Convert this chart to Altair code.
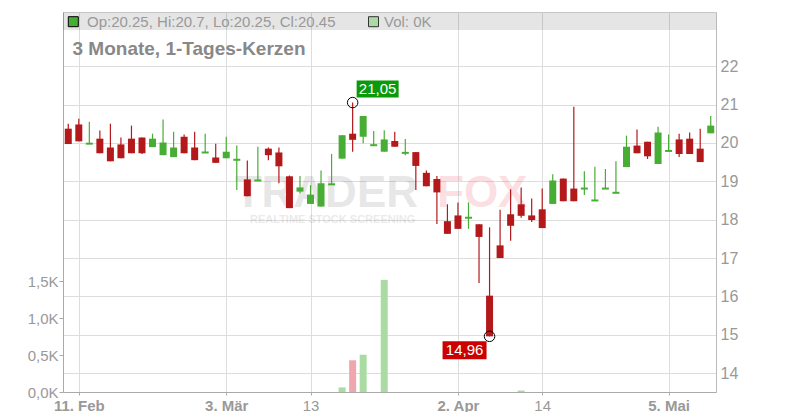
import altair as alt
import pandas as pd

# ---- data (daily candles, 10 Feb - 9 May) ----
opens = [20.37, 20.48, 19.98, 20.11, 19.88, 19.96, 20.11, 20.14, 19.89, 19.68,
         19.63, 20.16, 19.88, 19.75, 19.62, 19.60, 19.56, 19.05, 19.02, 19.85,
         19.75, 19.13, 18.73, 18.41, 18.34, 18.92, 19.59, 20.24, 20.16, 19.94,
         19.77, 20.05, 19.74, 19.76, 19.22, 19.06, 17.96, 18.11, 18.05, 17.88,
         16.02, 17.33, 18.14, 18.40, 18.11, 18.27, 18.41, 19.07, 18.81, 18.81,
         18.50, 18.81, 18.70, 19.37, 19.93, 20.03, 19.45, 19.79, 20.09, 20.11,
         19.85, 20.25]
highs = [20.50, 20.63, 20.55, 20.32, 20.50, 20.14, 20.45, 20.14, 20.24, 20.61,
         20.29, 20.22, 20.29, 20.24, 19.98, 20.16, 19.93, 19.54, 19.90, 19.88,
         19.88, 19.15, 19.14, 18.90, 19.28, 19.71, 20.20, 21.05, 20.70, 20.31,
         20.33, 20.29, 20.10, 19.76, 19.28, 19.14, 18.40, 18.45, 18.45, 17.88,
         17.80, 18.26, 18.79, 18.84, 18.55, 18.81, 19.18, 19.07, 20.94, 19.26,
         19.38, 19.32, 19.52, 20.19, 20.35, 20.03, 20.42, 20.22, 20.24, 20.27,
         20.37, 20.70]
lows = [19.97, 20.04, 19.98, 19.73, 19.52, 19.60, 19.73, 19.71, 19.89, 19.68,
        19.63, 19.73, 19.55, 19.75, 19.48, 19.60, 18.77, 18.61, 19.02, 19.55,
        18.95, 18.30, 18.69, 18.41, 18.34, 18.92, 19.59, 19.77, 19.99, 19.94,
        19.77, 19.90, 19.68, 18.77, 18.87, 17.89, 17.63, 17.76, 17.76, 16.35,
        14.96, 17.00, 17.45, 18.05, 17.94, 17.78, 18.41, 18.48, 18.48, 18.64,
        18.50, 18.81, 18.70, 19.37, 19.73, 19.58, 19.45, 19.79, 19.63, 19.71,
        19.50, 20.25]
closes = [19.97, 20.04, 19.98, 19.73, 19.52, 19.60, 19.73, 19.73, 20.11, 20.01,
          19.88, 19.73, 19.55, 19.75, 19.48, 19.77, 19.56, 18.61, 19.02, 19.68,
          19.39, 18.30, 18.84, 18.65, 18.95, 18.92, 20.20, 20.08, 20.70, 19.94,
          20.09, 19.90, 19.74, 19.40, 18.87, 18.71, 17.63, 17.76, 18.05, 17.55,
          14.96, 17.00, 17.84, 18.10, 17.99, 17.78, 19.02, 18.48, 18.48, 18.81,
          18.50, 18.81, 18.70, 19.90, 19.73, 19.65, 20.27, 19.79, 19.71, 19.71,
          19.50, 20.45]
volumes = [0, 0, 0, 0, 0, 0, 0, 0, 0, 0,
           0, 0, 0, 0, 0, 0, 0, 0, 0, 0,
           0, 0, 0, 0, 0, 0, 62, 430, 505, 0,
           1520, 0, 0, 0, 0, 0, 0, 0, 0, 0,
           0, 0, 0, 20, 0, 0, 0, 0, 0, 0,
           0, 0, 0, 0, 0, 0, 0, 0, 0, 0,
           0, 0]
tick_idx = [1, 15, 23, 37, 45, 57]
tick_labels = ["11. Feb", "3. Mär", "13", "2. Apr", "14", "5. Mai"]
tick_bold = [True, True, False, True, False, True]
price_ticks = [14, 15, 16, 17, 18, 19, 20, 21, 22]
vol_ticks = [0, 500, 1000, 1500]
title_text = "3 Monate, 1-Tages-Kerzen"

# ---- styling ----
FONT = "Liberation Sans"
GREEN = "#48ad35"
RED = "#b3191b"
VGREEN = "#a9dba2"
VRED = "#f0a6ae"
GRID = "#dddddd"
AXIS = "#aaaaaa"
LABEL = "#999999"
W, H = 653, 380

n = len(opens)
df = pd.DataFrame({"i": list(range(n)), "open": opens, "high": highs,
                   "low": lows, "close": closes, "vol": volumes})
df["up"] = df["close"] >= df["open"]
df["body_hi"] = df[["open", "close"]].max(axis=1)
df["body_lo"] = df[["open", "close"]].min(axis=1)
df["doji"] = (df["open"] - df["close"]).abs() < 0.005
prev = df["close"].shift(1).fillna(df["close"])
df["vup"] = df["close"] >= prev

hi_i = int(df["high"].idxmax())
lo_i = int(df["low"].idxmin())
ann_hi = pd.DataFrame({"i": [hi_i], "p": [highs[hi_i]],
                       "t": [f"{highs[hi_i]:.2f}".replace(".", ",")]})
ann_lo = pd.DataFrame({"i": [lo_i], "p": [lows[lo_i]],
                       "t": [f"{lows[lo_i]:.2f}".replace(".", ",")]})

one = pd.DataFrame({"a": [0]})

lab_expr = " : ".join(f"datum.value == {v} ? '{t}'" for v, t in zip(tick_idx, tick_labels)) + " : ''"
normal_test = " || ".join(f"datum.value == {v}" for v, b in zip(tick_idx, tick_bold) if not b)

xscale = alt.Scale(domain=[-0.5, n - 0.5], nice=False, zero=False)
xaxis = alt.Axis(values=tick_idx, labelExpr=lab_expr, grid=True, gridColor=GRID,
                 domainColor=AXIS, tickColor=AXIS, tickSize=3, labelFont=FONT,
                 labelFontSize=15, labelColor=LABEL, labelPadding=3, title=None,
                 labelFontWeight={"condition": {"test": normal_test, "value": "normal"},
                                  "value": "bold"})
X = alt.X("i:Q", scale=xscale, axis=xaxis)

pscale = alt.Scale(domain=[13.51, 23.41], nice=False, zero=False)
paxis = alt.Axis(orient="right", values=price_ticks, format="d", grid=True,
                 gridColor=GRID, domainColor="#bbbbbb", ticks=False, labelPadding=4,
                 labelFont=FONT, labelFontSize=16, labelColor=LABEL, title=None)


def PY(field):
    return alt.Y(f"{field}:Q", scale=pscale, axis=paxis)


ccolor = alt.condition("datum.up", alt.value(GREEN), alt.value(RED))
base = alt.Chart(df)

# watermark
wm1 = alt.Chart(one).mark_text(text="TRADER", font=FONT, fontSize=44, fontWeight="bold",
                               align="right", baseline="alphabetic", color="black",
                               opacity=0.09).encode(x=alt.value(355), y=alt.value(195))
wm2 = alt.Chart(one).mark_text(text="FOX", font=FONT, fontSize=44, fontWeight="bold",
                               align="left", baseline="alphabetic", color="#ee3344",
                               opacity=0.15).encode(x=alt.value(374), y=alt.value(195))
wm3 = alt.Chart(one).mark_text(text="REALTIME STOCK SCREENING", font=FONT, fontSize=11,
                               fontWeight="bold", align="left", baseline="middle",
                               color="black", opacity=0.08).encode(x=alt.value(187), y=alt.value(208))

wick = base.mark_rule(strokeWidth=1.2).encode(x=X, y=PY("low"), y2="high:Q", color=ccolor)
body = base.transform_filter("!datum.doji").mark_rect(xOffset=-3.5, x2Offset=3.5).encode(
    x=X, x2="i:Q", y=PY("body_hi"), y2="body_lo:Q", color=ccolor)
doji = base.transform_filter("datum.doji").mark_rect(
    xOffset=-3.5, x2Offset=3.5, yOffset=-1, y2Offset=1).encode(
    x=X, x2="i:Q", y=PY("close"), y2="close:Q", color=ccolor)

# extreme annotations
c_hi = alt.Chart(ann_hi).mark_point(shape="circle", size=110, filled=False, color="black",
                                    strokeWidth=1, opacity=1).encode(x=X, y=PY("p"))
c_lo = alt.Chart(ann_lo).mark_point(shape="circle", size=110, filled=False, color="black",
                                    strokeWidth=1, opacity=1).encode(x=X, y=PY("p"))
b_hi = alt.Chart(ann_hi).mark_rect(color="#0a9a0a", xOffset=4, x2Offset=46,
                                   yOffset=-22, y2Offset=-5).encode(x=X, x2="i:Q", y=PY("p"), y2="p:Q")
b_lo = alt.Chart(ann_lo).mark_rect(color="#cc0000", xOffset=-47, x2Offset=-3,
                                   yOffset=5, y2Offset=23).encode(x=X, x2="i:Q", y=PY("p"), y2="p:Q")
t_hi = alt.Chart(ann_hi).mark_text(color="white", font=FONT, fontSize=15, dx=25, dy=-13.5,
                                   baseline="middle").encode(x=X, y=PY("p"), text="t:N")
t_lo = alt.Chart(ann_lo).mark_text(color="white", font=FONT, fontSize=15, dx=-25, dy=14,
                                   baseline="middle").encode(x=X, y=PY("p"), text="t:N")

# header band and texts
band = alt.Chart(one).mark_rect(color="black", opacity=0.1).encode(
    x=alt.value(0), x2=alt.value(W), y=alt.value(0), y2=alt.value(18))
sq1 = alt.Chart(one).mark_point(shape="square", size=100, filled=True, fill=GREEN,
                                stroke="black", strokeWidth=1, opacity=1).encode(
    x=alt.value(10.3), y=alt.value(9.7))
last = n - 1
hdr = f"Op:{opens[last]:g}, Hi:{highs[last]:g}, Lo:{lows[last]:g}, Cl:{closes[last]:g}"
txt1 = alt.Chart(one).mark_text(text=hdr, font=FONT, fontSize=15, color=LABEL, align="left",
                                baseline="middle").encode(x=alt.value(24), y=alt.value(10))
sq2 = alt.Chart(one).mark_point(shape="square", size=100, filled=True, fill=VGREEN,
                                stroke="#333333", strokeWidth=1, opacity=1).encode(
    x=alt.value(310.5), y=alt.value(9.7))
txt2 = alt.Chart(one).mark_text(text=f"Vol: {volumes[last] / 1000:.0f}K", font=FONT, fontSize=15,
                                color=LABEL, align="left", baseline="middle").encode(
    x=alt.value(321), y=alt.value(10))
ttl = alt.Chart(one).mark_text(text=title_text, font=FONT, fontSize=19, fontWeight="bold",
                               color="#888888", align="left", baseline="alphabetic").encode(
    x=alt.value(9.5), y=alt.value(42.5))

price = alt.layer(wm1, wm2, wm3, band, wick, body, doji, c_hi, c_lo, b_hi, b_lo, t_hi, t_lo,
                  sq1, txt1, sq2, txt2, ttl)

vscale = alt.Scale(domain=[0, 5150], nice=False, zero=True)
vaxis = alt.Axis(orient="left", values=vol_ticks, grid=False, domainColor=AXIS,
                 tickColor=AXIS, tickSize=4, labelPadding=1, labelFont=FONT,
                 labelFontSize=15, labelColor=LABEL, title=None,
                 labelExpr="replace(format(datum.value / 1000, '.1f'), '.', ',') + 'K'")
vol = base.transform_filter("datum.vol > 0").mark_rect(xOffset=-3.5, x2Offset=3.5).encode(
    x=X, x2="i:Q",
    y=alt.Y("vol:Q", scale=vscale, axis=vaxis), y2=alt.datum(0),
    color=alt.condition("datum.vup", alt.value(VGREEN), alt.value(VRED)))

chart = alt.layer(price, vol).resolve_scale(y="independent").properties(
    width=W, height=H,
    autosize=alt.AutoSizeParams(type="none"),
    padding={"left": 55, "top": 4, "right": 70, "bottom": 20},
).configure_view(strokeWidth=0).configure(background="white")

chart.save("out.html", embed_options={"renderer": "svg", "actions": False})
